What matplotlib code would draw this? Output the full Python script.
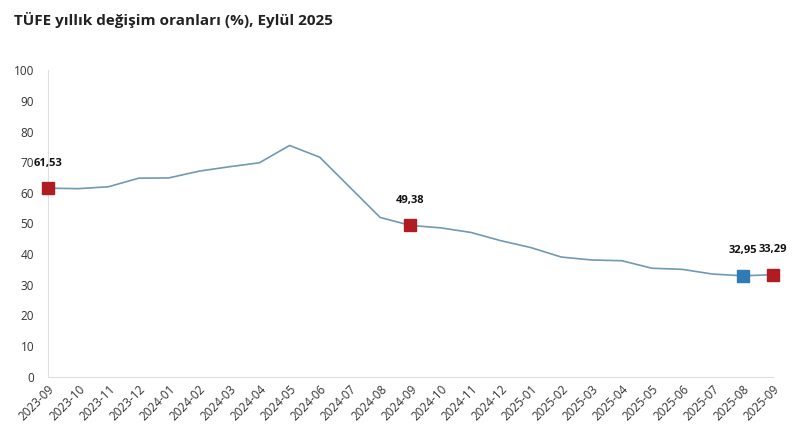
import matplotlib.pyplot as plt

months = ['2023-09', '2023-10', '2023-11', '2023-12', '2024-01', '2024-02', '2024-03',
          '2024-04', '2024-05', '2024-06', '2024-07', '2024-08', '2024-09', '2024-10',
          '2024-11', '2024-12', '2025-01', '2025-02', '2025-03', '2025-04', '2025-05',
          '2025-06', '2025-07', '2025-08', '2025-09']
cpi = [61.53, 61.36, 61.98, 64.77, 64.86, 67.07, 68.50, 69.80, 75.45, 71.60, 61.78,
       51.97, 49.38, 48.58, 47.09, 44.38, 42.12, 39.05, 38.10, 37.86, 35.41, 35.05,
       33.52, 32.95, 33.29]
red_pts = [0, 12, 24]
blue_pts = [23]

plt.rcParams['font.family'] = ['Open Sans', 'DejaVu Sans']

fig = plt.figure(figsize=(8, 4.47), dpi=100)
ax = fig.add_axes([0.06, 0.157, 0.906, 0.686])
x = list(range(len(months)))
ax.plot(x, cpi, color='#7199b3', lw=1.2, zorder=2)
for i in red_pts:
    ax.plot(i, cpi[i], marker='s', ms=9, color='#b01c22', clip_on=False, zorder=3)
for i in blue_pts:
    ax.plot(i, cpi[i], marker='s', ms=9, color='#2e7bb6', clip_on=False, zorder=3)
for i in red_pts + blue_pts:
    ax.annotate(f'{cpi[i]:.2f}'.replace('.', ','), (i, cpi[i]), xytext=(0, 14),
                textcoords='offset points', ha='center', va='bottom',
                fontsize=8, fontweight='bold', color='#111111')

ax.set_xlim(0, 24)
ax.set_ylim(0, 100)
ax.set_yticks(range(0, 101, 10))
ax.set_xticks(x)
ax.set_xticklabels(months, rotation=45, ha='right', rotation_mode='anchor')
ax.tick_params(axis='both', length=0, labelsize=8.5, colors='#333333')
ax.tick_params(axis='y', pad=10)
ax.tick_params(axis='x', pad=4)
for s in ['top', 'right']:
    ax.spines[s].set_visible(False)
for s in ['left', 'bottom']:
    ax.spines[s].set_color('#e0e0e0')

fig.text(0.018, 0.955, 'TÜFE yıllık değişim oranları (%), Eylül 2025', fontsize=11,
         fontweight='bold', color='#222222', va='center')

fig.savefig('out.png', dpi=100)
